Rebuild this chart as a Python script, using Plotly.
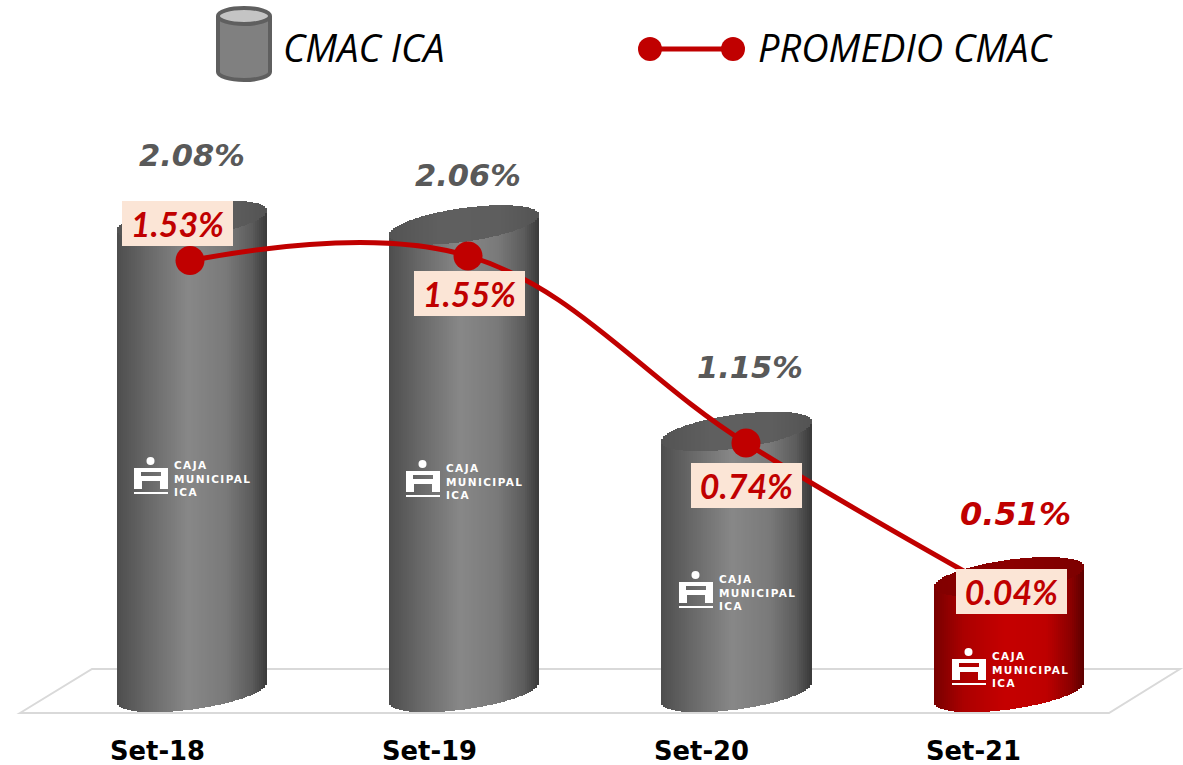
import numpy as np
import plotly.graph_objects as go

# ---- data ----
categories = ["Set-18", "Set-19", "Set-20", "Set-21"]
cmac_ica = [2.08, 2.06, 1.15, 0.51]
promedio_cmac = [1.53, 1.55, 0.74, 0.04]

# ---- styling / layout constants (pixels of the 1183x765 page) ----
W, H, PLOT_H = 1183, 765, 720
RED = "#C00000"
GREY_TXT = "#595959"
FONT = "Lato"
HEAVY_FONT = "DejaVu Sans"
LEG_FONT = "Open Sans"
ica_offsets = [(0, 65), (4, 49), (13, 64), (7, 63)]
prom_offsets = [(-12.5, 37.5), (1, -37.5), (0, -42), (-13, 13.5)]
logo_anchors = [(134, 457), (406, 460), (679, 571), (952, 648)]
logo_words = ["CAJA", "MUNICIPAL", "ICA"]
marker_sizes = [29, 29, 29, 0]

# per-axis pixel scales
BAR_X0, BAR_DX = 192.0, 272.3
BAR_Y0, BAR_DY = 692.5, 227.0
LINE_X0, LINE_DX = 190.0, 278.0
LINE_Y0, LINE_DY = 614.0, 231.0
TICK_X0, TICK_DX = 157.5, 272.0


def xrange_(x0, dx):
    return [(0 - x0) / dx, (W - x0) / dx]


def yrange_(y0, dy):
    return [(y0 - PLOT_H) / dy, y0 / dy]


def px(x):
    return x / W


def py(y):
    return 1 - y / PLOT_H


def grad(t, stops):
    xs = [s[0] for s in stops]
    r = np.interp(t, xs, [s[1][0] for s in stops])
    g = np.interp(t, xs, [s[1][1] for s in stops])
    b = np.interp(t, xs, [s[1][2] for s in stops])
    return [f"rgb({int(a)},{int(c)},{int(d)})" for a, c, d in zip(r, g, b)]


GREY_BODY = [(-1, (78, 78, 78)), (-0.6, (104, 104, 104)), (-0.05, (136, 136, 136)),
             (0.45, (122, 122, 122)), (0.8, (92, 92, 92)), (1, (58, 58, 58))]
GREY_CAP = [(-1, (84, 84, 84)), (-0.3, (96, 96, 96)), (0.5, (94, 94, 94)), (1, (84, 84, 84))]
RED_BODY = [(-1, (120, 0, 0)), (-0.6, (172, 0, 0)), (-0.05, (198, 0, 0)),
            (0.5, (190, 0, 0)), (0.82, (140, 0, 0)), (1, (92, 0, 0))]
RED_CAP = [(-1, (130, 0, 0)), (0, (140, 0, 0)), (1, (125, 0, 0))]

HALF_W = 75 / BAR_DX
N = 75
t = (np.arange(N) + 0.5) / N * 2 - 1
stripe_w = (2 * HALF_W / N) * 1.15
TILT = 10 / BAR_DY
ELL = 17 / BAR_DY
arc = ELL * np.sqrt(1 - t ** 2)

fig = go.Figure()

for i, v in enumerate(cmac_ica):
    last = i == len(cmac_ica) - 1
    xs = i + t * HALF_W
    base = TILT * t - arc
    top_low = v + TILT * t - arc
    top_high = v + TILT * t + arc
    fig.add_trace(go.Bar(x=xs, y=top_low - base, base=base, width=stripe_w,
                         marker=dict(color=grad(t, RED_BODY if last else GREY_BODY), line_width=0),
                         xaxis="x2", yaxis="y", name=categories[i], hoverinfo="skip"))
    fig.add_trace(go.Bar(x=xs, y=top_high - top_low, base=top_low, width=stripe_w,
                         marker=dict(color=grad(t, RED_CAP if last else GREY_CAP), line_width=0),
                         xaxis="x2", yaxis="y", hoverinfo="skip"))

# invisible trace that carries the category axis
fig.add_trace(go.Scatter(x=list(range(4)), y=cmac_ica, mode="markers", marker=dict(opacity=0),
                         xaxis="x", yaxis="y", hoverinfo="skip"))

fig.add_trace(go.Scatter(x=list(range(4)), y=promedio_cmac, mode="lines+markers",
                         line=dict(color=RED, width=5, shape="spline", smoothing=1.1),
                         marker=dict(color=RED, size=marker_sizes, opacity=1, line=dict(width=0)),
                         xaxis="x3", yaxis="y2", name="PROMEDIO CMAC", hoverinfo="skip"))

shapes = []
# floor
floor = [(20, 713), (92, 669), (1180, 669), (1109, 713)]
path = "M " + " L ".join(f"{px(a):.5f},{py(b):.5f}" for a, b in floor) + " Z"
shapes.append(dict(type="path", path=path, xref="paper", yref="paper", layer="below",
                   line=dict(color="#D9D9D9", width=2), fillcolor="rgba(0,0,0,0)"))

annotations = []


def rect_path(x0, y0, x1, y1, ccw=False):
    pts = [(x0, y0), (x1, y0), (x1, y1), (x0, y1)]
    if ccw:
        pts = pts[::-1]
    return "M " + " L ".join(f"{px(a):.5f},{py(b):.5f}" for a, b in pts) + " Z "


logo_text = "<br>".join(f'<span style="letter-spacing:1.4px">{w}</span>' for w in logo_words)
for ax, ay in logo_anchors:
    shapes.append(dict(type="circle", xref="paper", yref="paper", x0=px(ax + 12.5), x1=px(ax + 20.5),
                       y0=py(ay), y1=py(ay + 8), fillcolor="white", line_width=0))
    p = rect_path(ax, ay + 11, ax + 34, ay + 32)
    p += rect_path(ax + 7, ay + 15, ax + 27, ay + 19, ccw=True)
    p += rect_path(ax + 8, ay + 24, ax + 26, ay + 32, ccw=True)
    shapes.append(dict(type="path", path=p, xref="paper", yref="paper", fillcolor="white", line_width=0))
    shapes.append(dict(type="rect", xref="paper", yref="paper", x0=px(ax), x1=px(ax + 34),
                       y0=py(ay + 35), y1=py(ay + 37), fillcolor="white", line_width=0))
    annotations.append(dict(text=logo_text, xref="paper", yref="paper", x=px(ax + 37.5), y=py(ay + 21.3),
                            xanchor="left", yanchor="middle", showarrow=False, align="left",
                            font=dict(family=HEAVY_FONT, size=10.5, color="white", weight="bold")))

# legend: cylinder icon
shapes.append(dict(type="circle", xref="paper", yref="paper", x0=px(218), x1=px(270), y0=py(64), y1=py(80),
                   fillcolor="#808080", line=dict(color="#5F5F5F", width=4)))
shapes.append(dict(type="rect", xref="paper", yref="paper", x0=px(220), x1=px(268), y0=py(18), y1=py(72),
                   fillcolor="#808080", line_width=0))
shapes.append(dict(type="line", xref="paper", yref="paper", x0=px(218), x1=px(218), y0=py(16), y1=py(72),
                   line=dict(color="#5F5F5F", width=4)))
shapes.append(dict(type="line", xref="paper", yref="paper", x0=px(270), x1=px(270), y0=py(16), y1=py(72),
                   line=dict(color="#5F5F5F", width=4)))
shapes.append(dict(type="circle", xref="paper", yref="paper", x0=px(218), x1=px(270), y0=py(8), y1=py(24),
                   fillcolor="#C4C4C4", line=dict(color="#5F5F5F", width=4)))
# legend: line icon
shapes.append(dict(type="line", xref="paper", yref="paper", x0=px(650), x1=px(733), y0=py(49), y1=py(49),
                   line=dict(color=RED, width=5)))
for cx in (650, 733):
    shapes.append(dict(type="circle", xref="paper", yref="paper", x0=px(cx - 12), x1=px(cx + 12),
                       y0=py(37), y1=py(61), fillcolor=RED, line_width=0))

for txt, x in (("CMAC ICA", 281), ("PROMEDIO CMAC", 756)):
    annotations.append(dict(text=txt, xref="paper", yref="paper", x=px(x), y=py(47), xanchor="left",
                            yanchor="middle", showarrow=False,
                            font=dict(family=LEG_FONT, size=38, color="black", style="italic")))

# value labels
for i, v in enumerate(cmac_ica):
    last = i == len(cmac_ica) - 1
    annotations.append(dict(text=f"{v:.2f}%", xref="x2", yref="y", x=i, y=v,
                            xshift=ica_offsets[i][0], yshift=ica_offsets[i][1],
                            xanchor="center", yanchor="middle", showarrow=False,
                            font=dict(family=HEAVY_FONT, size=32 if last else 30.5, weight="bold", style="italic",
                                      color=RED if last else GREY_TXT)))
for i, v in enumerate(promedio_cmac):
    annotations.append(dict(text=f"{v:.2f}%", xref="x3", yref="y2", x=i, y=v,
                            xshift=prom_offsets[i][0], yshift=prom_offsets[i][1],
                            xanchor="center", yanchor="middle", showarrow=False,
                            width=111, height=45, align="center", valign="middle", bgcolor="#FBE5D6",
                            borderpad=0, borderwidth=0,
                            font=dict(family=FONT, size=34, weight="bold", style="italic", color=RED)))

hidden = dict(showgrid=False, zeroline=False, showticklabels=False, ticks="", showline=False, automargin=False)
fig.update_layout(
    width=W, height=H, autosize=False,
    margin=dict(l=0, r=0, t=0, b=H - PLOT_H, pad=0),
    paper_bgcolor="white", plot_bgcolor="white",
    showlegend=False, barmode="overlay", bargap=0,
    shapes=shapes, annotations=annotations,
    xaxis=dict(range=xrange_(TICK_X0, TICK_DX), tickmode="array", tickvals=list(range(4)), ticktext=categories,
               showgrid=False, zeroline=False, showline=False, ticks="outside", ticklen=8, automargin=False,
               tickcolor="rgba(0,0,0,0)",
               tickfont=dict(family=HEAVY_FONT, size=25.8, color="black", weight="bold")),
    xaxis2=dict(range=xrange_(BAR_X0, BAR_DX), overlaying="x", anchor="y", **hidden),
    xaxis3=dict(range=xrange_(LINE_X0, LINE_DX), overlaying="x", anchor="y2", **hidden),
    yaxis=dict(range=yrange_(BAR_Y0, BAR_DY), **hidden),
    yaxis2=dict(range=yrange_(LINE_Y0, LINE_DY), overlaying="y", anchor="x3", **hidden),
)

fig.write_html("out.html", config=dict(displayModeBar=False),
               post_script="document.body.style.margin='0';document.body.style.overflow='hidden';")
